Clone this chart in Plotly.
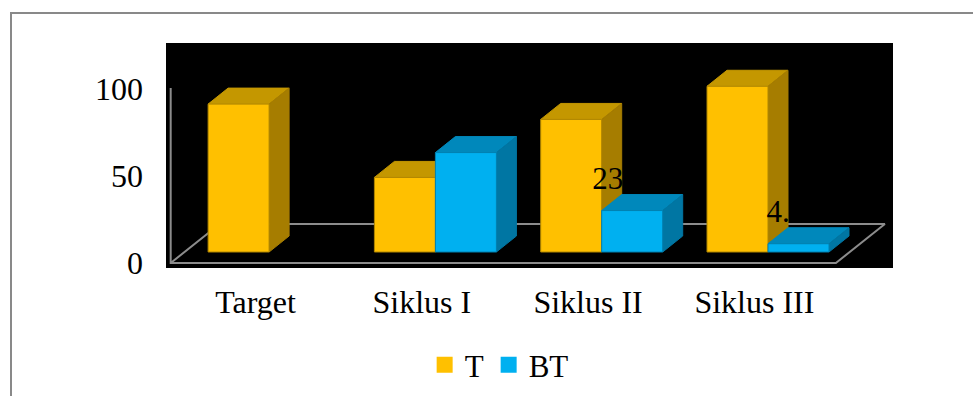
import plotly.graph_objects as go

# ---------------- data ----------------
categories = ["Target", "Siklus I", "Siklus II", "Siklus III"]
series_names = ["T", "BT"]
t_values = [85, 42.86, 76.19, 95.24]
bt_values = [None, 57.14, 23.81, 4.76]
y_ticks = [0, 50, 100]

# ---------------- styling / projection constants ----------------
FONT = "Liberation Serif"
KX, KY = 166.3, 1.74            # px per x unit / px per y unit
BAR_W = 61 / KX                 # bar width in x units
DX1, DY1 = 13.6 / KX, 11 / KY   # depth shift of bar front faces
DX2, DY2 = 20 / KX, 16 / KY     # bar depth
FX, FY = 49 / KX, 39 / KY       # floor depth
FLOOR_L, FLOOR_R = -0.51, 3.49
LABEL_UP = 17.0                 # label centre above front top (y units)

COLORS = {
    "T": {"front": "#FFC000", "top": "#C49700", "side": "#A67D00", "edge": "#B08600"},
    "BT": {"front": "#00B0F0", "top": "#0088BB", "side": "#0076A3", "edge": "#0080B0"},
}

L, R, T, B = 166, 80, 43, 128
W, H = 973, 396
PW, PH = W - L - R, H - T - B
x_range = [-(255.5 - L) / KX, -(255.5 - L) / KX + PW / KX]
y_range = [-(268 - 263) / KY, -(268 - 263) / KY + PH / KY]

fig = go.Figure()

# floor + vertical axis outline
fx = [FLOOR_L, FLOOR_L, FLOOR_R, FLOOR_R + FX, FLOOR_L + FX, FLOOR_L]
fy = [y_ticks[-1] + 0.6, 0, 0, FY, FY, 0]
fig.add_trace(go.Scatter(x=fx, y=fy, mode="lines", line=dict(color="#8c8c8c", width=2),
                         hoverinfo="skip", showlegend=False))


def poly(xs, ys, fill, edge):
    fig.add_trace(go.Scatter(x=xs + [xs[0]], y=ys + [ys[0]], mode="lines", fill="toself",
                             fillcolor=fill, line=dict(color=edge, width=1),
                             hoverinfo="skip", showlegend=False))


def bar3d(xl, val, c):
    x0 = xl + DX1
    x1 = x0 + BAR_W
    yb = DY1
    yt = DY1 + val
    poly([x0, x1, x1 + DX2, x0 + DX2], [yt, yt, yt + DY2, yt + DY2], c["top"], c["top"])
    poly([x1, x1 + DX2, x1 + DX2, x1], [yb, yb + DY2, yt + DY2, yt], c["side"], c["side"])
    poly([x0, x1, x1, x0], [yb, yb, yt, yt], c["front"], c["edge"])


lab_x, lab_y, lab_t = [], [], []
for i, cat in enumerate(categories):
    for s, (name, vals) in enumerate(zip(series_names, [t_values, bt_values])):
        v = vals[i]
        if v is None:
            continue
        xl = i - BAR_W + s * BAR_W
        bar3d(xl, v, COLORS[name])
        lab_x.append(xl + DX1 + BAR_W / 2 - 5 / KX)
        lab_y.append(DY1 + v + LABEL_UP)
        lab_t.append(f"{v:g}")

# data labels (black, as in the original)
fig.add_trace(go.Scatter(x=lab_x, y=lab_y, text=lab_t, mode="text",
                         textfont=dict(family=FONT, size=31, color="black"),
                         textposition="middle center", cliponaxis=False,
                         hoverinfo="skip", showlegend=False))

# legend entries
for name in series_names:
    fig.add_trace(go.Scatter(x=[None], y=[None], mode="markers", name=name,
                             marker=dict(symbol="square", size=16, color=COLORS[name]["front"])))

# outer chart border
fig.add_shape(type="rect", xref="paper", yref="paper",
              x0=(11 - L) / PW, x1=1.2, y0=-0.8, y1=(H - B - 13) / PH,
              line=dict(color="#898989", width=2), fillcolor="rgba(0,0,0,0)", layer="below")

fig.update_layout(
    width=W, height=H, margin=dict(l=L, r=R, t=T, b=B),
    plot_bgcolor="black", paper_bgcolor="white",
    font=dict(family=FONT, size=32, color="black"),
    showlegend=True,
    legend=dict(orientation="h", xref="container", yref="container",
                x=0.513, y=0.078, xanchor="center", yanchor="middle",
                font=dict(family=FONT, size=31, color="black"),
                itemsizing="trace", bgcolor="rgba(0,0,0,0)"),
    xaxis=dict(range=x_range, tickmode="array", tickvals=list(range(len(categories))),
               ticktext=categories, showgrid=False, zeroline=False, showline=False,
               ticks="", ticklabelstandoff=12, fixedrange=True,
               tickfont=dict(family=FONT, size=32, color="black")),
    yaxis=dict(range=y_range, tickmode="array", tickvals=y_ticks,
               ticktext=[str(t) for t in y_ticks], showgrid=False, zeroline=False,
               showline=False, ticks="", ticklabelstandoff=22, fixedrange=True,
               tickfont=dict(family=FONT, size=32, color="black")),
)

fig.write_html("out.html")
